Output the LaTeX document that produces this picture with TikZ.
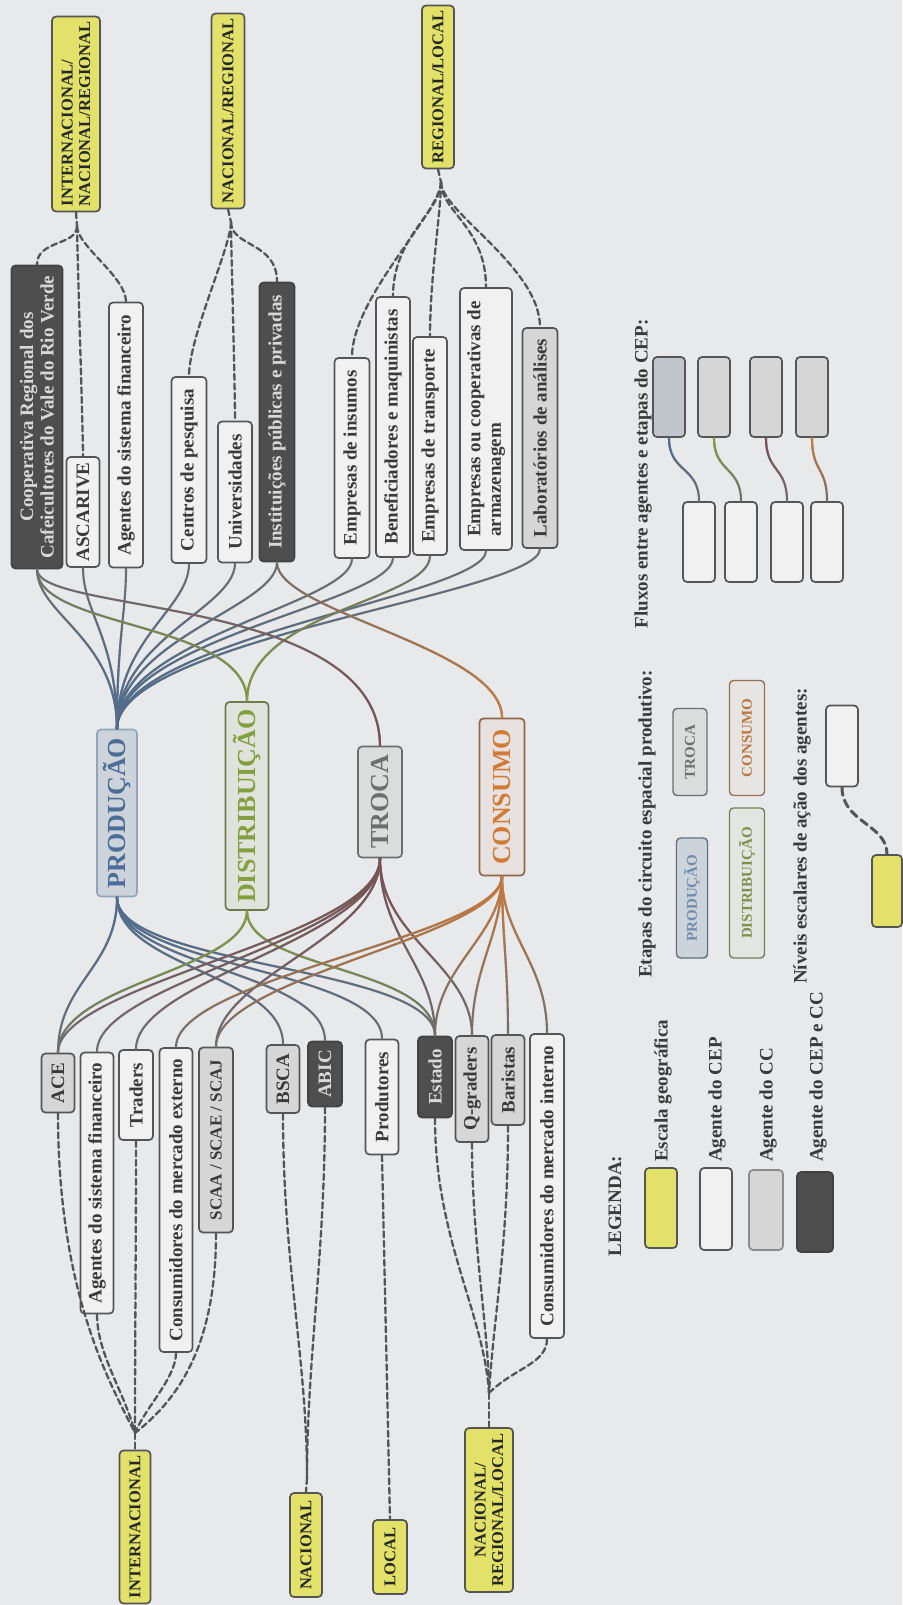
\documentclass[tikz,border=0pt]{standalone}
\usepackage{fontspec}
\setmainfont{Liberation Serif}
\usetikzlibrary{calc,fadings}
\definecolor{figbg}{HTML}{E8E9EA}
\definecolor{figink}{HTML}{3A3A3A}
\definecolor{figedge}{HTML}{555555}
\definecolor{figlink}{HTML}{6E6E6E}
\definecolor{escfill}{HTML}{E2E26A}
\definecolor{cepfill}{HTML}{F1F1F1}
\definecolor{ccfill}{HTML}{D6D6D6}
\definecolor{ambfill}{HTML}{4E4E4E}
\definecolor{prodc}{HTML}{4C6D96}
\definecolor{distc}{HTML}{83A03E}
\definecolor{trocac}{HTML}{7B4F52}
\definecolor{consc}{HTML}{D27B36}

\begin{document}
\begin{tikzpicture}[x=1pt, y=-1pt, line cap=round, line join=round,
  caixa/.style={rotate=90, draw=figedge, line width=1.7pt, rounded corners=4pt,
    inner xsep=3pt, inner ysep=0pt, align=center, text=figink,
    font=\bfseries\fontsize{19}{20.5}\selectfont},
  dims/.style 2 args={minimum width=#1pt, minimum height=#2pt},
  escala/.style={caixa, fill=escfill, text=black!85, font=\bfseries\fontsize{16.5}{17.5}\selectfont},
  agcep/.style={caixa, fill=cepfill},
  agcc/.style={caixa, fill=ccfill},
  agamb/.style={caixa, fill=ambfill, draw=ambfill!85!black, text=white!85!black},
  etapa/.style={caixa, font=\bfseries\fontsize{26}{28}\selectfont},
  etapaleg/.style={caixa, line width=1.4pt, font=\bfseries\fontsize{15}{17}\selectfont},
  legtxt/.style={rotate=90, text=figink, inner sep=1pt, font=\bfseries\fontsize{19}{21}\selectfont},
  fluxo/.style={draw=figlink, line width=2.1pt},
  fcima/.style={fluxo, path fading=north},
  fbaixo/.style={fluxo, path fading=south},
  nivel/.style={draw=figedge, line width=2.3pt, dash pattern=on 6pt off 3.5pt}]

  \useasboundingbox (0,0) rectangle (902,1605);
  \fill[figbg] (0,0) rectangle (902,1605);

  % 上方：地理尺度
  \node[escala, dims={195}{48}, align=left] (sInr) at (76,114) {INTERNACIONAL/\\NACIONAL/REGIONAL};
  \node[escala, dims={195}{33}] (sNr) at (228,111) {NACIONAL/REGIONAL};
  \node[escala, dims={163}{32}] (sRl) at (438,87) {REGIONAL/LOCAL};

  % 上排主体
  \node[agamb, dims={303}{51}] (coop) at (37,417) {Cooperativa Regional dos\\Cafeicultores do Vale do Rio Verde};
  \node[agcep, dims={110}{33}] (ascarive) at (83,512) {ASCARIVE};
  \node[agcep, dims={265}{34}] (agfinA) at (126,435) {Agentes do sistema financeiro};
  \node[agcep, dims={186}{35}] (centros) at (189,470) {Centros de pesquisa};
  \node[agcep, dims={141}{34}] (univ) at (235,492) {Universidades};
  \node[agamb, dims={279}{35}] (instit) at (277,422) {Instituições públicas e privadas};
  \node[agcep, dims={200}{35}] (insumos) at (352,458) {Empresas de insumos};
  \node[agcep, dims={260}{34}] (benef) at (393,427) {Beneficiadores e maquinistas};
  \node[agcep, dims={218}{34}] (transp) at (430,446) {Empresas de transporte};
  \node[agcep, dims={262}{52}, align=left] (armaz) at (486,419) {Empresas ou cooperativas de\\armazenagem};
  \node[agcc, dims={220}{35}] (lab) at (540,438) {Laboratórios de análises};

  % 四个环节
  \node[etapa, dims={167}{40}, fill=prodc!18!figbg, draw=prodc!55!figbg, text=prodc] (prod) at (117,813) {PRODUÇÃO};
  \node[etapa, dims={208}{43}, fill=distc!8!figbg, draw=distc!50!figedge, text=distc] (dist) at (247,806) {DISTRIBUIÇÃO};
  \node[etapa, dims={111}{44}, fill=ccfill!70!figbg, draw=figlink, text=figlink] (troca) at (380,802) {TROCA};
  \node[etapa, dims={157}{45}, fill=consc!6!figbg, draw=consc!45!figedge, text=consc] (cons) at (502,797) {CONSUMO};

  % 下排主体
  \node[agcc, dims={59}{33}] (ace) at (58,1083) {ACE};
  \node[agcep, dims={261}{33}] (agfinB) at (97,1183) {Agentes do sistema financeiro};
  \node[agcep, dims={90}{34}] (traders) at (136,1095) {Traders};
  \node[agcep, dims={304}{33}] (consext) at (176,1200) {Consumidores do mercado externo};
  \node[agcc, dims={185}{34}, font=\bfseries\fontsize{17}{18.5}\selectfont] (scaa) at (216,1140) {SCAA / SCAE / SCAJ};
  \node[agcc, dims={68}{33}] (bsca) at (283,1079) {BSCA};
  \node[agamb, dims={65}{34}] (abic) at (325,1074) {ABIC};
  \node[agcep, dims={115}{33}] (produt) at (382,1097) {Produtores};
  \node[agamb, dims={81}{34}] (estado) at (435,1077) {Estado};
  \node[agcc, dims={106}{33}] (qgrad) at (472,1089) {Q-graders};
  \node[agcc, dims={90}{33}] (baristas) at (508,1080) {Baristas};
  \node[agcep, dims={304}{34}] (consint) at (547,1186) {Consumidores do mercado interno};

  % 下方：地理尺度
  \node[escala, dims={153}{31}] (sInt) at (135,1527) {INTERNACIONAL};
  \node[escala, dims={104}{32}] (sNac) at (306,1545) {NACIONAL};
  \node[escala, dims={74}{34}] (sLoc) at (390,1557) {LOCAL};
  \node[escala, dims={164}{48}] (sNrl) at (489,1510) {NACIONAL/\\REGIONAL/LOCAL};

  % 上排 → 环节（实线，靠环节一端带颜色）
  \foreach \a in {coop,ascarive,agfinA,centros,univ,instit,insumos,benef,armaz,lab} {
    \draw[fluxo] (\a.west) .. controls +(0,45) and +(0,-90) .. (prod.east);
    \draw[fcima, draw=prodc] (\a.west) .. controls +(0,45) and +(0,-90) .. (prod.east);
  }
  \draw[fluxo] (coop.west) .. controls +(0,60) and +(0,-80) .. (dist.east);
  \draw[fcima, draw=distc] (coop.west) .. controls +(0,60) and +(0,-80) .. (dist.east);
  \draw[fluxo] (transp.west) .. controls +(0,45) and +(0,-90) .. (dist.east);
  \draw[fcima, draw=distc] (transp.west) .. controls +(0,45) and +(0,-90) .. (dist.east);
  \draw[fluxo] (coop.west) .. controls +(0,45) and +(0,-150) .. (troca.east);
  \draw[fcima, draw=trocac] (coop.west) .. controls +(0,45) and +(0,-150) .. (troca.east);
  \draw[fluxo] (instit.west) .. controls +(0,50) and +(0,-70) .. (cons.east);
  \draw[fcima, draw=consc] (instit.west) .. controls +(0,50) and +(0,-70) .. (cons.east);

  % 环节 → 下排
  \foreach \a in {ace,bsca,abic,produt,estado} {
    \draw[fluxo] (prod.west) .. controls +(0,70) and +(0,-70) .. (\a.east);
    \draw[fbaixo, draw=prodc] (prod.west) .. controls +(0,70) and +(0,-70) .. (\a.east);
  }
  \foreach \a in {ace,estado} {
    \draw[fluxo] (dist.west) .. controls +(0,60) and +(0,-70) .. (\a.east);
    \draw[fbaixo, draw=distc] (dist.west) .. controls +(0,60) and +(0,-70) .. (\a.east);
  }
  \foreach \a in {ace,agfinB,traders,scaa,estado,qgrad} {
    \draw[fluxo] (troca.west) .. controls +(0,80) and +(0,-70) .. (\a.east);
    \draw[fbaixo, draw=trocac] (troca.west) .. controls +(0,80) and +(0,-70) .. (\a.east);
  }
  \foreach \a in {consext,scaa,estado,qgrad,baristas,consint} {
    \draw[fluxo] (cons.west) .. controls +(0,60) and +(0,-70) .. (\a.east);
    \draw[fbaixo, draw=consc] (cons.west) .. controls +(0,60) and +(0,-70) .. (\a.east);
  }

  % 虚线：主体 → 地理尺度
  \coordinate (jInr) at (77,226);
  \coordinate (jNr) at (231,222);
  \coordinate (jRl) at (441,182);
  \draw[nivel] (sInr.west) -- (jInr);
  \draw[nivel] (sNr.west) -- (jNr);
  \draw[nivel] (sRl.west) -- (jRl);
  \foreach \a in {coop,ascarive,agfinA} \draw[nivel] (jInr) .. controls +(0,20) and +(0,-25) .. (\a.east);
  \foreach \a in {centros,univ,instit} \draw[nivel] (jNr) .. controls +(0,25) and +(0,-40) .. (\a.east);
  \foreach \a in {insumos,benef,transp,armaz,lab} \draw[nivel] (jRl) .. controls +(0,30) and +(0,-60) .. (\a.east);

  \coordinate (jInt) at (135,1433);
  \coordinate (jNac) at (307,1478);
  \coordinate (jNrl) at (489,1393);
  \draw[nivel] (jInt) -- (sInt.east);
  \draw[nivel] (jNac) -- (sNac.east);
  \draw[nivel] (jNrl) -- (sNrl.east);
  \draw[nivel] (ace.west) .. controls +(0,180) and +(-25,-50) .. (jInt);
  \draw[nivel] (agfinB.west) .. controls +(0,40) and +(-10,-40) .. (jInt);
  \draw[nivel] (traders.west) .. controls +(0,100) and +(0,-100) .. (jInt);
  \draw[nivel] (consext.west) .. controls +(0,25) and +(10,-25) .. (jInt);
  \draw[nivel] (scaa.west) .. controls +(0,110) and +(45,-35) .. (jInt);
  \draw[nivel] (bsca.west) .. controls +(0,150) and +(0,-120) .. (jNac);
  \draw[nivel] (abic.west) .. controls +(0,150) and +(0,-120) .. (jNac);
  \draw[nivel] (produt.west) -- (sLoc.east);
  \draw[nivel] (estado.west) .. controls +(0,120) and +(-5,-80) .. (jNrl);
  \draw[nivel] (qgrad.west) .. controls +(0,100) and +(0,-60) .. (jNrl);
  \draw[nivel] (baristas.west) .. controls +(0,120) and +(5,-80) .. (jNrl);
  \draw[nivel] (consint.west) .. controls +(0,25) and +(25,-25) .. (jNrl);

  % 图例
  \node[legtxt] (tLeg) at (615,1206) {LEGENDA:};
  \node[escala, dims={80}{32}] (lEsc) at (661,1208) {};
  \node[agcep, dims={82}{32}] (lCep) at (716,1209) {};
  \node[agcc, dims={80}{34}, draw=figlink!80] (lCc) at (766,1210) {};
  \node[agamb, dims={80}{36}] (lAmb) at (815,1212) {};
  \node[legtxt, anchor=west] (tEsc) at (663,1163) {Escala geográfica};
  \node[legtxt, anchor=west] (tCep) at (717,1163) {Agente do CEP};
  \node[legtxt, anchor=west] (tCc) at (768,1163) {Agente do CC};
  \node[legtxt, anchor=west] (tAmb) at (818,1163) {Agente do CEP e CC};

  \node[legtxt] (tEtapas) at (647,824) {Etapas do circuito espacial produtivo:};
  \node[etapaleg, dims={120}{31}, fill=prodc!18!figbg, draw=prodc!40!figlink, text=prodc!75!figbg] (lProd) at (692,898) {PRODUÇÃO};
  \node[etapaleg, dims={87}{34}, fill=ccfill!70!figbg, draw=figlink, text=figlink] (lTroca) at (690,752) {TROCA};
  \node[etapaleg, dims={150}{35}, fill=distc!5!figbg, draw=distc!35!figlink, text=distc!70!figlink] (lDist) at (747,883) {DISTRIBUIÇÃO};
  \node[etapaleg, dims={115}{35}, fill=consc!5!figbg, draw=consc!40!figlink, text=consc!75!figlink] (lCons) at (747,738) {CONSUMO};

  \node[legtxt] (tNiveis) at (802,836) {Níveis escalares de ação dos agentes:};
  \node[agcep, dims={81}{32}] (nAg) at (842,746) {};
  \node[escala, dims={72}{30}] (nEsc) at (887,891) {};
  \draw[nivel, line width=3pt, dash pattern=on 8pt off 5pt] (nAg.west) .. controls +(0,35) and +(0,-30) .. (nEsc.east);

  \node[legtxt] (tFluxos) at (643,474) {Fluxos entre agentes e etapas do CEP:};
  \foreach \i/\xa/\xb/\c/\f in {1/669/699/prodc/prodc!15!ccfill, 2/714/741/distc/ccfill, 3/766/787/trocac/ccfill, 4/812/827/consc/ccfill} {
    \node[agcc, dims={80}{32}, fill=\f] (fa\i) at (\xa,397) {};
    \node[agcep, dims={80}{32}] (fb\i) at (\xb,542) {};
    \draw[fluxo] (fa\i.west) .. controls +(0,35) and +(0,-35) .. (fb\i.east);
    \draw[fbaixo, draw=\c] (fb\i.east) .. controls +(0,-35) and +(0,35) .. (fa\i.west);
  }
\end{tikzpicture}
\end{document}
